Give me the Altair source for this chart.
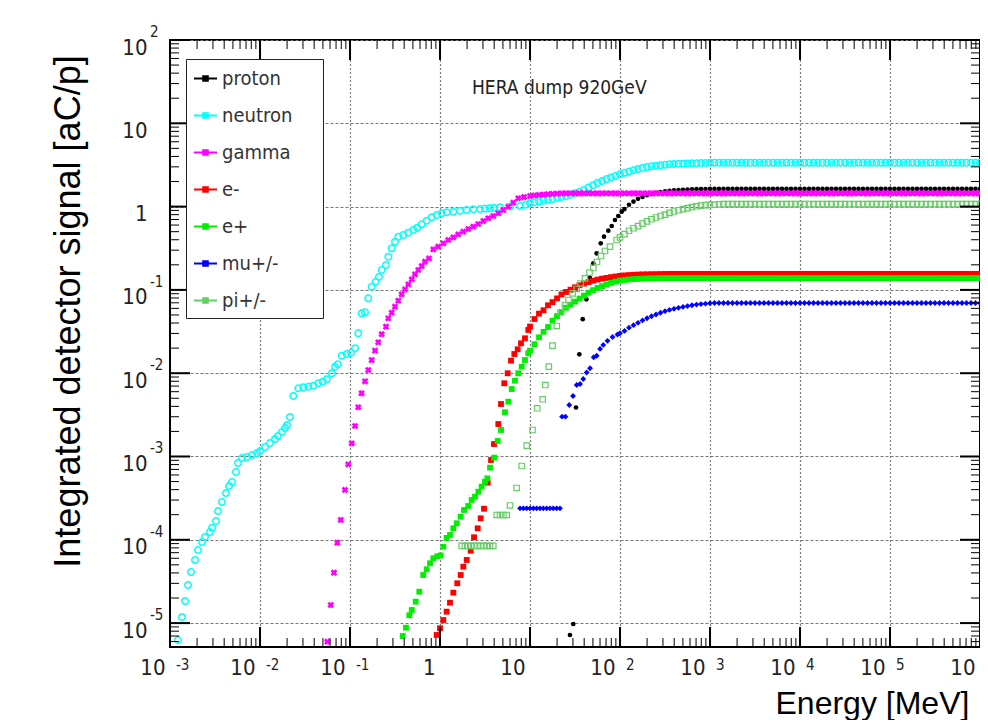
import altair as alt
import pandas as pd

# ------------------------------------------------------------------
# Data (log10 of energy [MeV] and log10 of signal)
# ------------------------------------------------------------------
PARTICLES = ["proton", "neutron", "gamma", "e-", "e+", "mu+/-", "pi+/-"]
COLORS = ["#000000", "#00ffff", "#ff00ff", "#ff0000", "#00ee00", "#0000ff", "#66cc66"]

X_DECADES = [-3, -2, -1, 0, 1, 2, 3, 4, 5, 6]
Y_DECADES = [-5, -4, -3, -2, -1, 0, 1, 2]
X_EXPONENTS = ["-3", "-2", "-1", "2", "3", "4", "5"]
Y_EXPONENTS = ["-5", "-4", "-3", "-2", "-1", "2"]
MINOR_STEPS = [2, 3, 4, 5, 6, 7, 8, 9]
Y_MIN_LOG = -5.287

# common high-energy bin centres (log10 E)
GRID_LOG_E = [
    1.00, 1.05, 1.10, 1.15, 1.20, 1.25, 1.30, 1.35, 1.40, 1.45,
    1.50, 1.55, 1.60, 1.65, 1.70, 1.75, 1.80, 1.85, 1.90, 1.95,
    2.00, 2.05, 2.10, 2.15, 2.20, 2.25, 2.30, 2.35, 2.40, 2.45,
    2.50, 2.55, 2.60, 2.65, 2.70, 2.75, 2.80, 2.85, 2.90, 2.95,
    3.00, 3.05, 3.10, 3.15, 3.20, 3.25, 3.30, 3.35, 3.40, 3.45,
    3.50, 3.55, 3.60, 3.65, 3.70, 3.75, 3.80, 3.85, 3.90, 3.95,
    4.00, 4.05, 4.10, 4.15, 4.20, 4.25, 4.30, 4.35, 4.40, 4.45,
    4.50, 4.55, 4.60, 4.65, 4.70, 4.75, 4.80, 4.85, 4.90, 4.95,
    5.00, 5.05, 5.10, 5.15, 5.20, 5.25, 5.30, 5.35, 5.40, 5.45,
    5.50, 5.55, 5.60, 5.65, 5.70, 5.75, 5.80, 5.85, 5.90, 5.95,
    6.00]

# ---- proton ----
proton_lo_logE = [1.444, 1.481, 1.511, 1.548, 1.586, 1.626, 1.663, 1.703, 1.741, 1.786,
                  1.822, 1.870, 1.908, 1.944, 1.981, 2.019]
proton_lo_logS = [-5.143, -5.011, -2.412, -1.773, -1.352, -1.113, -0.851, -0.681, -0.561, -0.441,
                  -0.361, -0.289, -0.233, -0.161, -0.113, -0.061]
proton_hi_logS = [
    -0.030, 0.022, 0.060, 0.093, 0.116, 0.136, 0.152, 0.165, 0.175,
    0.184, 0.190, 0.194, 0.198, 0.201, 0.204, 0.207, 0.209, 0.210, 0.211,
    0.212, 0.212, 0.212, 0.212, 0.212, 0.212, 0.212, 0.212, 0.212, 0.212,
    0.212, 0.212, 0.212, 0.212, 0.212, 0.212, 0.212, 0.212, 0.212, 0.212,
    0.212, 0.212, 0.212, 0.212, 0.212, 0.212, 0.212, 0.212, 0.212, 0.212,
    0.212, 0.212, 0.212, 0.212, 0.212, 0.212, 0.212, 0.212, 0.212, 0.212,
    0.212, 0.212, 0.212, 0.212, 0.212, 0.212, 0.212, 0.212, 0.212, 0.212,
    0.212, 0.212, 0.212, 0.212, 0.212, 0.212, 0.212, 0.212, 0.212, 0.212,
    0.212]

# ---- neutron ----
neutron_lo_logE = [
    -2.911, -2.867, -2.833, -2.800, -2.767, -2.722, -2.689, -2.644, -2.611, -2.556,
    -2.533, -2.489, -2.467, -2.422, -2.378, -2.344, -2.311, -2.267, -2.244, -2.200,
    -2.144, -2.089, -2.033, -2.000, -1.944, -1.889, -1.833, -1.800, -1.756, -1.722,
    -1.700, -1.667, -1.630, -1.574, -1.519, -1.463, -1.408, -1.352, -1.303, -1.259,
    -1.203, -1.167, -1.137, -1.092, -1.037, -0.989, -0.944, -0.908, -0.870, -0.833,
    -0.797, -0.759, -0.714, -0.678, -0.648, -0.600, -0.574, -0.537, -0.500, -0.463,
    -0.408, -0.352, -0.297, -0.252, -0.203, -0.148, -0.092, -0.037, 0.019, 0.074,
    0.148, 0.222, 0.297, 0.370, 0.444, 0.500, 0.556, 0.600, 0.667, 0.778,
    0.889, 0.950]
neutron_lo_logS = [
    -5.203, -4.927, -4.735, -4.543, -4.387, -4.242, -4.122, -4.026, -3.966, -3.906,
    -3.858, -3.774, -3.654, -3.546, -3.438, -3.354, -3.306, -3.186, -3.078, -3.018,
    -3.006, -2.982, -2.958, -2.934, -2.886, -2.838, -2.790, -2.754, -2.706, -2.658,
    -2.622, -2.526, -2.274, -2.181, -2.169, -2.162, -2.150, -2.121, -2.102, -2.073,
    -2.001, -1.922, -1.893, -1.790, -1.770, -1.754, -1.701, -1.521, -1.281, -1.269,
    -1.101, -0.962, -0.902, -0.842, -0.761, -0.701, -0.601, -0.501, -0.421, -0.361,
    -0.341, -0.313, -0.281, -0.253, -0.213, -0.169, -0.128, -0.101, -0.080, -0.068,
    -0.061, -0.049, -0.041, -0.032, -0.029, -0.024, -0.020, -0.015, -0.008, 0.000,
    0.007, 0.022]
neutron_hi_logS = [
    0.040, 0.052, 0.062, 0.072, 0.081, 0.092, 0.103, 0.115, 0.128, 0.143,
    0.160, 0.178, 0.200, 0.228, 0.256, 0.284, 0.307, 0.330, 0.350, 0.368,
    0.388, 0.405, 0.421, 0.437, 0.451, 0.463, 0.474, 0.484, 0.491, 0.497,
    0.503, 0.508, 0.511, 0.514, 0.516, 0.518, 0.520, 0.522, 0.524, 0.525,
    0.526, 0.527, 0.527, 0.527, 0.527, 0.527, 0.527, 0.527, 0.527, 0.527,
    0.527, 0.527, 0.527, 0.527, 0.527, 0.527, 0.527, 0.527, 0.527, 0.527,
    0.527, 0.527, 0.527, 0.527, 0.527, 0.527, 0.527, 0.527, 0.527, 0.527,
    0.527, 0.527, 0.527, 0.527, 0.527, 0.527, 0.527, 0.527, 0.527, 0.527,
    0.527, 0.527, 0.527, 0.527, 0.527, 0.527, 0.527, 0.527, 0.527, 0.527,
    0.527, 0.527, 0.527, 0.527, 0.527, 0.527, 0.527, 0.527, 0.527, 0.527,
    0.527]

# ---- gamma ----
gamma_lo_logE = [
    -1.252, -1.214, -1.178, -1.141, -1.103, -1.056, -1.019, -0.981, -0.944, -0.908,
    -0.872, -0.833, -0.797, -0.759, -0.722, -0.686, -0.648, -0.600, -0.574, -0.537,
    -0.500, -0.463, -0.426, -0.389, -0.352, -0.314, -0.278, -0.241, -0.203, -0.167,
    -0.122, -0.074, -0.019, 0.037, 0.092, 0.148, 0.203, 0.259, 0.314, 0.370,
    0.426, 0.481, 0.537, 0.592, 0.648, 0.703, 0.759, 0.814, 0.870, 0.933]
gamma_lo_logS = [
    -5.223, -4.783, -4.395, -4.035, -3.762, -3.402, -3.094, -2.842, -2.634, -2.409,
    -2.241, -2.097, -1.962, -1.842, -1.730, -1.629, -1.532, -1.442, -1.341, -1.274,
    -1.202, -1.130, -1.053, -0.993, -0.933, -0.873, -0.813, -0.761, -0.713, -0.661,
    -0.621, -0.513, -0.481, -0.441, -0.401, -0.369, -0.333, -0.301, -0.269, -0.241,
    -0.209, -0.173, -0.140, -0.113, -0.080, -0.041, -0.001, 0.047, 0.100, 0.115]
gamma_hi_logS = [
    0.127, 0.134, 0.140, 0.145, 0.149, 0.152, 0.155, 0.158, 0.160, 0.160,
    0.160, 0.160, 0.160, 0.160, 0.160, 0.160, 0.160, 0.160, 0.160, 0.160,
    0.160, 0.160, 0.160, 0.160, 0.160, 0.160, 0.160, 0.160, 0.160, 0.160,
    0.160, 0.160, 0.160, 0.160, 0.160, 0.160, 0.160, 0.160, 0.160, 0.160,
    0.160, 0.160, 0.160, 0.160, 0.160, 0.160, 0.160, 0.160, 0.160, 0.160,
    0.160, 0.160, 0.160, 0.160, 0.160, 0.160, 0.160, 0.160, 0.160, 0.160,
    0.160, 0.160, 0.160, 0.160, 0.160, 0.160, 0.160, 0.160, 0.160, 0.160,
    0.160, 0.160, 0.160, 0.160, 0.160, 0.160, 0.160, 0.160, 0.160, 0.160,
    0.160, 0.160, 0.160, 0.160, 0.160, 0.160, 0.160, 0.160, 0.160, 0.160,
    0.160, 0.160, 0.160, 0.160, 0.160, 0.160, 0.160, 0.160, 0.160, 0.160,
    0.160]

# ---- e- ----
eminus_lo_logE = [
    -0.037, 0.000, 0.037, 0.074, 0.111, 0.148, 0.192, 0.230, 0.259, 0.297,
    0.341, 0.378, 0.419, 0.452, 0.489, 0.530, 0.567, 0.600, 0.648, 0.678,
    0.714, 0.752, 0.789, 0.826, 0.863, 0.900, 0.944, 0.981]
eminus_lo_logS = [
    -5.143, -5.062, -4.963, -4.863, -4.755, -4.635, -4.522, -4.423, -4.323, -4.242,
    -4.131, -3.970, -3.862, -3.742, -3.627, -3.314, -3.042, -2.850, -2.610, -2.370,
    -2.121, -2.001, -1.850, -1.770, -1.713, -1.641, -1.581, -1.481]
eminus_hi_logS = [
    -1.440, -1.350, -1.285, -1.245, -1.185, -1.147, -1.102, -1.055, -1.025, -0.998,
    -0.969, -0.944, -0.924, -0.907, -0.890, -0.876, -0.865, -0.856, -0.847, -0.839,
    -0.832, -0.826, -0.822, -0.819, -0.816, -0.814, -0.813, -0.812, -0.811, -0.810,
    -0.809, -0.808, -0.808, -0.808, -0.808, -0.808, -0.808, -0.808, -0.808, -0.808,
    -0.808, -0.808, -0.808, -0.808, -0.808, -0.808, -0.808, -0.808, -0.808, -0.808,
    -0.808, -0.808, -0.808, -0.808, -0.808, -0.808, -0.808, -0.808, -0.808, -0.808,
    -0.808, -0.808, -0.808, -0.808, -0.808, -0.808, -0.808, -0.808, -0.808, -0.808,
    -0.808, -0.808, -0.808, -0.808, -0.808, -0.808, -0.808, -0.808, -0.808, -0.808,
    -0.808, -0.808, -0.808, -0.808, -0.808, -0.808, -0.808, -0.808, -0.808, -0.808,
    -0.808, -0.808, -0.808, -0.808, -0.808, -0.808, -0.808, -0.808, -0.808, -0.808,
    -0.808]

# ---- e+ ----
eplus_lo_logE = [
    -0.414, -0.378, -0.341, -0.314, -0.270, -0.230, -0.186, -0.148, -0.111, -0.074,
    -0.030, 0.008, 0.037, 0.074, 0.111, 0.148, 0.186, 0.230, 0.267, 0.314,
    0.352, 0.389, 0.426, 0.463, 0.500, 0.526, 0.556, 0.603, 0.641, 0.678,
    0.722, 0.759, 0.797, 0.833, 0.870, 0.908, 0.944, 0.981]
eplus_lo_logS = [
    -5.155, -5.055, -4.906, -4.843, -4.743, -4.623, -4.423, -4.354, -4.282, -4.222,
    -4.198, -4.188, -4.083, -3.978, -3.942, -3.862, -3.802, -3.723, -3.642, -3.594,
    -3.522, -3.482, -3.423, -3.362, -3.303, -3.262, -3.134, -3.014, -2.814, -2.682,
    -2.469, -2.342, -2.190, -2.090, -2.001, -1.922, -1.842, -1.761]
eplus_hi_logS = [
    -1.730, -1.652, -1.570, -1.503, -1.446, -1.370, -1.314, -1.264, -1.214, -1.177,
    -1.141, -1.105, -1.069, -1.034, -1.003, -0.977, -0.956, -0.936, -0.917, -0.902,
    -0.890, -0.881, -0.875, -0.870, -0.868, -0.865, -0.863, -0.861, -0.860, -0.859,
    -0.858, -0.858, -0.858, -0.858, -0.858, -0.858, -0.858, -0.858, -0.858, -0.858,
    -0.858, -0.858, -0.858, -0.858, -0.858, -0.858, -0.858, -0.858, -0.858, -0.858,
    -0.858, -0.858, -0.858, -0.858, -0.858, -0.858, -0.858, -0.858, -0.858, -0.858,
    -0.858, -0.858, -0.858, -0.858, -0.858, -0.858, -0.858, -0.858, -0.858, -0.858,
    -0.858, -0.858, -0.858, -0.858, -0.858, -0.858, -0.858, -0.858, -0.858, -0.858,
    -0.858, -0.858, -0.858, -0.858, -0.858, -0.858, -0.858, -0.858, -0.858, -0.858,
    -0.858, -0.858, -0.858, -0.858, -0.858, -0.858, -0.858, -0.858, -0.858, -0.858,
    -0.858]

# ---- mu+/- ----
mu_lo_logE = [
    0.889, 0.926, 0.963, 1.000, 1.037, 1.074, 1.111, 1.148, 1.185, 1.222,
    1.259, 1.296, 1.333, 1.356, 1.394, 1.436, 1.478, 1.519, 1.556, 1.592,
    1.630, 1.667, 1.708, 1.741, 1.778, 1.814, 1.861, 1.917, 1.972]
mu_lo_logS = [
    -3.622, -3.622, -3.622, -3.622, -3.622, -3.622, -3.622, -3.622, -3.622, -3.622,
    -3.622, -3.622, -3.622, -2.522, -2.522, -2.382, -2.274, -2.142, -2.130, -2.070,
    -1.992, -1.941, -1.809, -1.791, -1.709, -1.661, -1.611, -1.565, -1.535]
mu_hi_logS = [
    -1.520, -1.492, -1.453, -1.423, -1.395, -1.366, -1.340, -1.316, -1.295, -1.274,
    -1.255, -1.240, -1.227, -1.215, -1.204, -1.194, -1.184, -1.176, -1.170, -1.165,
    -1.160, -1.157, -1.157, -1.157, -1.157, -1.157, -1.157, -1.157, -1.157, -1.157,
    -1.157, -1.157, -1.157, -1.157, -1.157, -1.157, -1.157, -1.157, -1.157, -1.157,
    -1.157, -1.157, -1.157, -1.157, -1.157, -1.157, -1.157, -1.157, -1.157, -1.157,
    -1.157, -1.157, -1.157, -1.157, -1.157, -1.157, -1.157, -1.157, -1.157, -1.157,
    -1.157, -1.157, -1.157, -1.157, -1.157, -1.157, -1.157, -1.157, -1.157, -1.157,
    -1.157, -1.157, -1.157, -1.157, -1.157, -1.157, -1.157, -1.157, -1.157, -1.157,
    -1.157]

# ---- pi+/- ----
pi_lo_logE = [
    0.241, 0.276, 0.311, 0.346, 0.381, 0.416, 0.451, 0.486, 0.521, 0.556,
    0.592, 0.630, 0.667, 0.704, 0.741, 0.778, 0.852, 0.908, 0.963, 1.028,
    1.080, 1.141, 1.170, 1.209, 1.250, 1.297, 1.339, 1.389, 1.428, 1.474,
    1.519, 1.563, 1.611, 1.661, 1.703, 1.744, 1.789, 1.833, 1.889, 1.963]
pi_lo_logS = [
    -4.074, -4.074, -4.074, -4.074, -4.074, -4.074, -4.074, -4.074, -4.074, -4.074,
    -4.074, -3.702, -3.702, -3.702, -3.702, -3.588, -3.378, -3.114, -2.870, -2.682,
    -2.421, -2.313, -2.142, -1.922, -1.670, -1.433, -1.271, -1.181, -1.121, -1.041,
    -0.989, -0.923, -0.861, -0.791, -0.737, -0.665, -0.593, -0.533, -0.481, -0.401]
pi_hi_logS = [
    -0.370, -0.331, -0.290, -0.260, -0.234, -0.205, -0.178, -0.152, -0.131, -0.113,
    -0.096, -0.076, -0.059, -0.044, -0.030, -0.018, -0.005, 0.004, 0.011, 0.017,
    0.021, 0.024, 0.027, 0.029, 0.030, 0.030, 0.030, 0.030, 0.030, 0.030,
    0.030, 0.030, 0.030, 0.030, 0.030, 0.030, 0.030, 0.030, 0.030, 0.030,
    0.030, 0.030, 0.030, 0.030, 0.030, 0.030, 0.030, 0.030, 0.030, 0.030,
    0.030, 0.030, 0.030, 0.030, 0.030, 0.030, 0.030, 0.030, 0.030, 0.030,
    0.030, 0.030, 0.030, 0.030, 0.030, 0.030, 0.030, 0.030, 0.030, 0.030,
    0.030, 0.030, 0.030, 0.030, 0.030, 0.030, 0.030, 0.030, 0.030, 0.030,
    0.030]

SERIES = [
    ("proton", proton_lo_logE, proton_lo_logS, proton_hi_logS),
    ("neutron", neutron_lo_logE, neutron_lo_logS, neutron_hi_logS),
    ("gamma", gamma_lo_logE, gamma_lo_logS, gamma_hi_logS),
    ("e-", eminus_lo_logE, eminus_lo_logS, eminus_hi_logS),
    ("e+", eplus_lo_logE, eplus_lo_logS, eplus_hi_logS),
    ("mu+/-", mu_lo_logE, mu_lo_logS, mu_hi_logS),
    ("pi+/-", pi_lo_logE, pi_lo_logS, pi_hi_logS),
]


def build(name, lo_e, lo_s, hi_s):
    e = list(lo_e) + GRID_LOG_E[len(GRID_LOG_E) - len(hi_s):]
    s = list(lo_s) + list(hi_s)
    assert len(e) == len(s), name
    return pd.DataFrame({"particle": name,
                         "E": [10.0 ** v for v in e],
                         "S": [10.0 ** v for v in s]})


# ------------------------------------------------------------------
# Styling
# ------------------------------------------------------------------
FONT = "DejaVu Sans Condensed, Liberation Sans Narrow, sans-serif"
TITLE_FONT = "Liberation Sans, Arial, sans-serif"
W, H = 810, 607

MARKERS = {
    "proton": dict(shape="circle", filled=True, size=22),
    "neutron": dict(shape="circle", filled=False, size=42, strokeWidth=1.5),
    "gamma": dict(shape="cross", filled=True, size=46, angle=45),
    "e-": dict(shape="square", filled=True, size=34),
    "e+": dict(shape="square", filled=True, size=34),
    "mu+/-": dict(shape="diamond", filled=True, size=34),
    "pi+/-": dict(shape="square", filled=False, size=30, strokeWidth=1.2),
}

xscale = alt.Scale(type="log", domain=[10.0 ** X_DECADES[0], 10.0 ** X_DECADES[-1]], nice=False)
yscale = alt.Scale(type="log", domain=[10.0 ** Y_MIN_LOG, 10.0 ** Y_DECADES[-1]], nice=False)
cscale = alt.Scale(domain=PARTICLES, range=COLORS)

XAXIS = alt.Axis(
    values=[10.0 ** d for d in X_DECADES],
    labelExpr="datum.value == 1 ? '1' : '10'",
    ticks=False, domain=False, grid=True,
    gridColor="black", gridDash=[1, 3], gridWidth=1.2, gridOpacity=1,
    labelFont=FONT, labelFontSize=22, labelColor="#222",
    labelAlign="right", labelBaseline="top", labelPadding=10, labelOffset=-5,
    labelOverlap=False, labelFlush=False, labelBound=False,
    title="Energy [MeV]", titleFont=TITLE_FONT, titleFontSize=32,
    titleFontWeight="normal", titleColor="black",
    titleX=605, titleY=66, titleAlign="left", titleBaseline="alphabetic",
)
YAXIS = alt.Axis(
    values=[10.0 ** d for d in Y_DECADES],
    labelExpr="datum.value == 1 ? '1' : '10'",
    ticks=False, domain=False, grid=True,
    gridColor="#777777", gridDash=[3, 2], gridWidth=1, gridOpacity=1,
    labelFont=FONT, labelFontSize=22, labelColor="#222",
    labelAlign="right", labelBaseline="middle", labelPadding=23, labelOffset=7,
    labelOverlap=False, labelFlush=False, labelBound=False,
    title="Integrated detector signal [aC/p]", titleFont=TITLE_FONT,
    titleFontSize=36, titleFontWeight="normal", titleColor="black",
    titleX=-91, titleY=271, titleAngle=270, titleAlign="center",
    titleBaseline="alphabetic",
)

LEGEND_SYMBOL = "M-1,0H1M-0.2,-0.2H0.2V0.2H-0.2Z"
# non-breaking spaces (closed by a zero-width space so they are not trimmed)
# widen the legend box like the original
LABEL_PAD = "\u00a0" * 4 + "\u200b"
LEGEND = alt.Legend(
    title=None, orient="none", legendX=16, legendY=19, direction="vertical",
    fillColor="white", strokeColor="#222", padding=7,
    symbolType=LEGEND_SYMBOL, symbolSize=529, symbolStrokeWidth=2,
    symbolOpacity=1, symbolFillColor="transparent",
    labelFont=FONT, labelFontSize=20, labelColor="#333",
    labelOffset=4, rowPadding=14, labelLimit=400,
    labelExpr="datum.label + '" + LABEL_PAD + "'",
)

X_ENC = dict(scale=xscale, axis=XAXIS)
Y_ENC = dict(scale=yscale, axis=YAXIS)
COLOR = alt.Color("particle:N", scale=cscale, legend=LEGEND)

layers = []
# legend carrier first (its marks are clipped away; only the legend shows)
layers.append(
    alt.Chart(pd.DataFrame({"particle": PARTICLES,
                            "E": [10.0 ** X_DECADES[0]] * len(PARTICLES),
                            "S": [10.0 ** Y_DECADES[-1]] * len(PARTICLES)})).mark_point(
        filled=False, clip=True, strokeWidth=2, opacity=1, size=0).encode(
        x=alt.X("E:Q", **X_ENC), y=alt.Y("S:Q", **Y_ENC), color=COLOR))

for name, lo_e, lo_s, hi_s in SERIES:
    df = build(name, lo_e, lo_s, hi_s)
    layers.append(
        alt.Chart(df).mark_point(opacity=1, **MARKERS[name]).encode(
            x=alt.X("E:Q", **X_ENC), y=alt.Y("S:Q", **Y_ENC), color=COLOR))

# inward ROOT-style ticks on all four sides
x_major = pd.DataFrame({"E": [10.0 ** d for d in X_DECADES]})
x_minor = pd.DataFrame({"E": [k * 10.0 ** d for d in X_DECADES[:-1] for k in MINOR_STEPS]})
y_major = pd.DataFrame({"S": [10.0 ** d for d in Y_DECADES]})
y_minor = pd.DataFrame({"S": [k * 10.0 ** d for d in [Y_DECADES[0] - 1] + Y_DECADES[:-1]
                              for k in MINOR_STEPS if k * 10.0 ** d >= 10.0 ** Y_MIN_LOG]})


def xticks(df, length, width):
    out = []
    for y0, y1 in [(H, H - length), (0, length)]:
        out.append(alt.Chart(df).mark_rule(color="black", strokeWidth=width).encode(
            x=alt.X("E:Q", **X_ENC), y=alt.value(y0), y2=alt.value(y1)))
    return out


def yticks(df, length, width):
    out = []
    for x0, x1 in [(0, length), (W, W - length)]:
        out.append(alt.Chart(df).mark_rule(color="black", strokeWidth=width).encode(
            y=alt.Y("S:Q", **Y_ENC), x=alt.value(x0), x2=alt.value(x1)))
    return out


layers += xticks(x_major, 20, 2) + xticks(x_minor, 9, 1)
layers += yticks(y_major, 20, 2) + yticks(y_minor, 9, 1)

# exponents of the "10" tick labels
x_exp = pd.DataFrame({"E": [10.0 ** int(t) for t in X_EXPONENTS], "t": X_EXPONENTS})
y_exp = pd.DataFrame({"S": [10.0 ** int(t) for t in Y_EXPONENTS], "t": Y_EXPONENTS})
layers.append(
    alt.Chart(x_exp).mark_text(align="left", baseline="middle", dx=6, font=FONT,
                               fontSize=15, color="#222").encode(
        x=alt.X("E:Q", **X_ENC), y=alt.value(H + 18), text="t:N"))
layers.append(
    alt.Chart(y_exp).mark_text(align="left", baseline="middle", dy=-8, font=FONT,
                               fontSize=15, color="#222").encode(
        y=alt.Y("S:Q", **Y_ENC), x=alt.value(-20), text="t:N"))

chart = alt.layer(*layers).properties(
    width=W, height=H,
    padding={"left": 162, "top": 32, "right": 0, "bottom": 73},
    autosize=alt.AutoSizeParams(type="none"),
    background="white",
    title=alt.TitleParams(
        text="HERA dump 920GeV", anchor="start", frame="group", orient="top",
        offset=0, dx=302, dy=82, font=FONT, fontSize=19, fontWeight="normal",
        color="#222", baseline="middle"),
).configure_view(stroke="black", strokeWidth=2)

chart.save("out.html", embed_options={"renderer": "svg", "actions": False})
